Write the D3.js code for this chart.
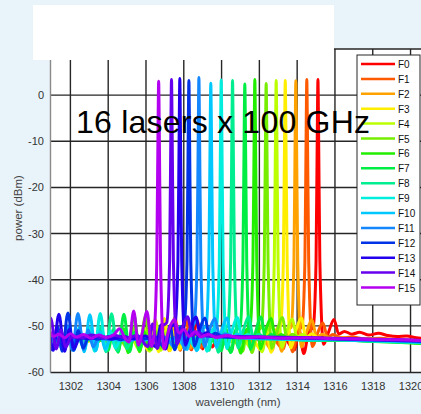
<!DOCTYPE html>
<html>
<head>
<meta charset="utf-8">
<script src="https://cdn.jsdelivr.net/npm/d3@7"></script>
<style>
  html, body { margin: 0; padding: 0; background: #e9f3fa; }
  svg { display: block; }
</style>
</head>
<body>
<svg id="chart" width="421" height="414"></svg>
<script>
// ---- data ----
var laserNames = ['F0','F1','F2','F3','F4','F5','F6','F7','F8','F9','F10','F11','F12','F13','F14','F15'];
var laserColors = ['#ff0000','#ff5a00','#ffa200','#ffee00','#bbff00','#77ee00','#22ee00','#00ee44',
                   '#00ee90','#00eedd','#00c8ff','#1487ff','#0033e6','#2200ee','#6600ee','#b400f0'];
var xTicks = [1302, 1304, 1306, 1308, 1310, 1312, 1314, 1316, 1318, 1320];
var yTicks = [-60, -50, -40, -30, -20, -10, 0];
var xTitle = 'wavelength (nm)';
var yTitle = 'power (dBm)';
var bannerText = '16 lasers x 100 GHz';

// each spectrum: [wavelength nm, power dBm]
var f0 = [[1300.9,-53.0],[1301.4,-52.4],[1301.9,-53.1],[1302.4,-52.6],[1302.9,-53.3],[1303.4,-52.5],[1303.9,-53.0],
  [1304.4,-52.4],[1304.9,-53.2],[1305.4,-52.7],[1305.9,-53.4],[1306.4,-52.6],[1306.9,-53.1],[1307.4,-52.8],
  [1307.85,-54.9],[1308.15,-50.8],[1308.4,-55.2],[1308.7,-48.8],[1309.0,-55.0],[1309.25,-51.5],[1309.5,-54.6],[1309.8,-52.8],
  [1310.3,-53.2],[1310.9,-52.5],[1311.5,-53.4],[1312.1,-52.6],[1312.7,-53.3],[1313.3,-52.7],
  [1313.85,-55.2],[1314.1,-51.0],[1314.35,-56.0],[1314.6,-51.5],[1314.85,-50.2],[1315.0,-36],[1315.07,-6],[1315.1,3.4],[1315.13,-6],[1315.2,-36],
  [1315.4,-54.0],[1315.65,-51.5],[1315.95,-48.6],[1316.2,-51.8],[1316.5,-51.2],[1316.9,-51.8],[1317.3,-51.4],[1317.8,-52.0],
  [1318.3,-51.6],[1318.8,-52.1],[1319.3,-52.3],[1319.8,-52.2],[1320.3,-52.6],[1321,-52.8]];
var f1 = [[1300.9,-53.2],[1301.4,-52.6],[1301.9,-53.3],[1302.4,-52.5],[1302.9,-53.0],[1303.4,-52.7],[1303.9,-53.4],
  [1304.4,-52.6],[1304.9,-53.0],[1305.4,-52.5],[1305.9,-53.2],[1306.4,-52.8],[1306.8,-53.1],
  [1307.26,-55.0],[1307.56,-50.6],[1307.81,-55.3],[1308.11,-48.5],[1308.41,-55.1],[1308.66,-51.2],[1308.91,-54.7],[1309.21,-52.9],
  [1309.71,-53.1],[1310.31,-52.6],[1310.91,-53.3],[1311.51,-52.5],[1312.11,-53.2],[1312.71,-52.8],
  [1313.26,-55.0],[1313.51,-50.8],[1313.76,-55.6],[1314.01,-51.3],[1314.26,-50.0],[1314.41,-36],[1314.48,-6],[1314.51,3.4],[1314.54,-6],[1314.61,-36],
  [1314.81,-54.5],[1315.06,-51.8],[1315.36,-49.4],[1315.61,-52.4],[1315.91,-51.9],[1316.31,-52.6],[1316.9,-52.4],[1317.6,-52.8],
  [1318.4,-52.7],[1319.2,-53.0],[1320.0,-53.1],[1321,-53.4]];
var f2 = [[1300.9,-52.8],[1301.4,-53.4],[1301.9,-52.7],[1302.4,-53.2],[1302.9,-52.5],[1303.4,-53.1],[1303.9,-52.6],
  [1304.4,-53.3],[1304.9,-52.8],[1305.4,-53.0],[1305.9,-52.6],[1306.3,-53.2],
  [1306.68,-55.1],[1306.98,-50.4],[1307.23,-55.4],[1307.53,-48.2],[1307.83,-55.0],[1308.08,-51.0],[1308.33,-54.8],[1308.63,-52.6],
  [1309.13,-53.3],[1309.73,-52.5],[1310.33,-53.1],[1310.93,-52.7],[1311.53,-53.4],[1312.13,-52.6],
  [1312.68,-55.3],[1312.93,-50.6],[1313.18,-55.5],[1313.43,-51.0],[1313.68,-50.3],[1313.83,-36],[1313.9,-6],[1313.93,3.1],[1313.96,-6],[1314.03,-36],
  [1314.23,-54.6],[1314.48,-51.6],[1314.78,-48.7],[1315.03,-52.5],[1315.33,-51.8],[1315.73,-52.7],[1316.4,-52.6],[1317.2,-52.9],
  [1318.0,-52.8],[1318.9,-53.1],[1319.8,-53.2],[1321,-53.5]];
var f3 = [[1300.9,-53.1],[1301.4,-52.6],[1301.9,-53.2],[1302.4,-52.8],[1302.9,-53.4],[1303.4,-52.6],[1303.9,-53.0],
  [1304.4,-52.5],[1304.9,-53.3],[1305.4,-52.7],[1305.8,-53.1],
  [1306.12,-55.3],[1306.42,-50.7],[1306.67,-55.6],[1306.97,-48.4],[1307.27,-55.4],[1307.52,-51.3],[1307.77,-55.0],[1308.07,-52.9],
  [1308.57,-53.0],[1309.17,-52.6],[1309.77,-53.4],[1310.37,-52.7],[1310.97,-53.2],[1311.57,-52.5],
  [1312.12,-55.4],[1312.37,-50.9],[1312.62,-55.7],[1312.87,-51.4],[1313.12,-49.8],[1313.27,-36],[1313.34,-6],[1313.37,3.2],[1313.4,-6],[1313.47,-36],
  [1313.67,-54.8],[1313.92,-51.2],[1314.22,-48.3],[1314.47,-52.6],[1314.77,-51.7],[1315.17,-52.8],[1315.9,-52.7],[1316.8,-53.0],
  [1317.7,-52.9],[1318.7,-53.2],[1319.8,-53.3],[1321,-53.6]];
var f4 = [[1300.9,-52.7],[1301.4,-53.3],[1301.9,-52.6],[1302.4,-53.1],[1302.9,-52.8],[1303.4,-53.4],[1303.9,-52.7],
  [1304.4,-53.2],[1304.9,-52.6],[1305.3,-53.0],
  [1305.64,-55.2],[1305.94,-50.5],[1306.19,-55.5],[1306.49,-48.6],[1306.79,-55.3],[1307.04,-51.1],[1307.29,-54.9],[1307.59,-52.7],
  [1308.09,-53.3],[1308.69,-52.5],[1309.29,-53.1],[1309.89,-52.8],[1310.49,-53.4],[1311.09,-52.6],
  [1311.64,-55.2],[1311.89,-50.7],[1312.14,-55.6],[1312.39,-51.2],[1312.64,-50.1],[1312.79,-36],[1312.86,-6],[1312.89,3.2],[1312.92,-6],[1312.99,-36],
  [1313.19,-54.7],[1313.44,-51.4],[1313.74,-48.5],[1313.99,-52.4],[1314.29,-51.9],[1314.69,-52.8],[1315.5,-52.9],[1316.4,-53.1],
  [1317.4,-53.0],[1318.5,-53.3],[1319.7,-53.4],[1321,-53.7]];
var f5 = [[1300.9,-53.0],[1301.4,-52.5],[1301.9,-53.2],[1302.4,-52.7],[1302.9,-53.3],[1303.4,-52.6],[1303.9,-53.1],
  [1304.4,-52.8],[1304.7,-53.2],
  [1305.11,-55.4],[1305.41,-50.3],[1305.66,-55.6],[1305.96,-48.0],[1306.26,-55.2],[1306.51,-51.0],[1306.76,-54.8],[1307.06,-52.8],
  [1307.56,-53.2],[1308.16,-52.6],[1308.76,-53.3],[1309.36,-52.5],[1309.96,-53.1],[1310.56,-52.7],
  [1311.11,-55.5],[1311.36,-50.8],[1311.61,-55.8],[1311.86,-51.3],[1312.11,-50.2],[1312.26,-36],[1312.33,-6],[1312.36,2.5],[1312.39,-6],[1312.46,-36],
  [1312.66,-54.9],[1312.91,-51.5],[1313.21,-48.2],[1313.46,-52.6],[1313.76,-51.8],[1314.16,-52.9],[1315.0,-52.8],[1316.0,-53.1],
  [1317.1,-53.0],[1318.3,-53.3],[1319.6,-53.5],[1321,-53.8]];
var f6 = [[1300.9,-52.8],[1301.4,-53.3],[1301.9,-52.6],[1302.4,-53.2],[1302.9,-52.7],[1303.4,-53.4],[1303.9,-52.5],[1304.2,-53.0],
  [1304.51,-55.5],[1304.81,-50.6],[1305.06,-55.8],[1305.36,-47.6],[1305.66,-55.5],[1305.91,-51.2],[1306.16,-55.0],[1306.46,-52.7],
  [1306.96,-53.3],[1307.56,-52.5],[1308.16,-53.2],[1308.76,-52.7],[1309.36,-53.4],[1309.96,-52.6],
  [1310.51,-55.6],[1310.76,-50.9],[1311.01,-55.9],[1311.26,-51.2],[1311.51,-50.0],[1311.66,-36],[1311.73,-6],[1311.76,3.4],[1311.79,-6],[1311.86,-36],
  [1312.06,-55.0],[1312.31,-51.3],[1312.61,-48.4],[1312.86,-52.5],[1313.16,-51.9],[1313.56,-52.9],[1314.5,-53.0],[1315.6,-53.2],
  [1316.8,-53.1],[1318.1,-53.4],[1319.5,-53.6],[1321,-53.9]];
var f7 = [[1300.9,-53.1],[1301.4,-52.6],[1301.9,-53.3],[1302.4,-52.7],[1302.9,-53.0],[1303.3,-52.6],[1303.7,-53.2],
  [1303.98,-55.4],[1304.28,-50.8],[1304.53,-55.7],[1304.83,-47.5],[1305.13,-55.6],[1305.38,-51.4],[1305.63,-55.1],[1305.93,-52.9],
  [1306.43,-53.1],[1307.03,-52.6],[1307.63,-53.4],[1308.23,-52.5],[1308.83,-53.2],[1309.43,-52.8],
  [1309.98,-55.4],[1310.23,-50.6],[1310.48,-55.8],[1310.73,-51.1],[1310.98,-50.3],[1311.13,-36],[1311.2,-6],[1311.23,2.4],[1311.26,-6],[1311.33,-36],
  [1311.53,-55.1],[1311.78,-51.6],[1312.08,-48.1],[1312.33,-52.7],[1312.63,-51.8],[1313.03,-52.8],[1314.0,-52.9],[1315.2,-53.1],
  [1316.5,-53.0],[1317.9,-53.3],[1319.4,-53.5],[1321,-53.8]];
var f8 = [[1300.9,-52.9],[1301.4,-53.4],[1301.9,-52.7],[1302.4,-53.1],[1302.8,-52.6],[1303.1,-53.2],
  [1303.33,-55.3],[1303.63,-50.2],[1303.88,-55.6],[1304.18,-47.4],[1304.48,-55.4],[1304.73,-51.0],[1304.98,-54.9],[1305.28,-52.8],
  [1305.78,-53.2],[1306.38,-52.5],[1306.98,-53.3],[1307.58,-52.6],[1308.18,-53.1],[1308.78,-52.7],
  [1309.33,-55.3],[1309.58,-50.5],[1309.83,-55.7],[1310.08,-51.0],[1310.33,-49.9],[1310.48,-36],[1310.55,-6],[1310.58,3.2],[1310.61,-6],[1310.68,-36],
  [1310.88,-54.8],[1311.13,-51.3],[1311.43,-48.0],[1311.68,-52.6],[1311.98,-51.8],[1312.38,-52.8],[1313.4,-52.9],[1314.7,-53.1],
  [1316.1,-53.0],[1317.6,-53.3],[1319.2,-53.5],[1321,-53.7]];
var f9 = [[1300.9,-53.0],[1301.4,-52.5],[1301.9,-53.2],[1302.3,-52.7],[1302.5,-53.1],
  [1302.73,-55.2],[1303.03,-50.4],[1303.28,-55.5],[1303.58,-47.3],[1303.88,-55.3],[1304.13,-51.1],[1304.38,-54.8],[1304.68,-52.6],
  [1305.18,-53.1],[1305.78,-52.6],[1306.38,-53.3],[1306.98,-52.5],[1307.58,-53.2],[1308.18,-52.7],
  [1308.73,-55.2],[1308.98,-50.6],[1309.23,-55.5],[1309.48,-51.2],[1309.73,-50.1],[1309.88,-36],[1309.95,-6],[1309.98,3.3],[1310.01,-6],[1310.08,-36],
  [1310.28,-54.9],[1310.53,-51.4],[1310.83,-48.2],[1311.08,-52.5],[1311.38,-51.9],[1311.78,-52.8],[1312.9,-52.8],[1314.3,-53.0],
  [1315.8,-53.0],[1317.4,-53.2],[1319.1,-53.4],[1321,-53.6]];
var f10 = [[1300.9,-52.7],[1301.4,-53.3],[1301.8,-52.6],[1302.0,-53.0],
  [1302.18,-55.3],[1302.48,-50.3],[1302.73,-55.6],[1303.03,-47.6],[1303.33,-55.4],[1303.58,-51.3],[1303.83,-55.0],[1304.13,-52.8],
  [1304.63,-53.2],[1305.23,-52.5],[1305.83,-53.1],[1306.43,-52.6],[1307.03,-53.3],[1307.63,-52.6],
  [1308.18,-55.1],[1308.43,-50.5],[1308.68,-55.4],[1308.93,-51.0],[1309.18,-50.0],[1309.33,-36],[1309.4,-6],[1309.43,2.6],[1309.46,-6],[1309.53,-36],
  [1309.73,-54.7],[1309.98,-51.3],[1310.28,-48.3],[1310.53,-52.6],[1310.83,-51.8],[1311.23,-52.7],[1312.4,-52.8],[1313.9,-52.9],
  [1315.5,-52.9],[1317.2,-53.1],[1319.0,-53.3],[1321,-53.6]];
var f11 = [[1300.9,-53.0],[1301.2,-52.6],[1301.4,-53.1],
  [1301.55,-55.0],[1301.85,-50.0],[1302.1,-55.3],[1302.4,-47.3],[1302.7,-55.1],[1302.95,-50.9],[1303.2,-54.6],[1303.5,-52.6],
  [1304.0,-53.0],[1304.6,-52.4],[1305.2,-53.1],[1305.8,-52.5],[1306.4,-53.0],[1307.0,-52.4],
  [1307.55,-54.8],[1307.8,-50.2],[1308.05,-55.1],[1308.3,-50.8],[1308.55,-49.6],[1308.7,-36],[1308.77,-6],[1308.8,3.8],[1308.83,-6],[1308.9,-36],
  [1309.1,-54.5],[1309.35,-51.0],[1309.65,-48.4],[1309.9,-52.4],[1310.2,-51.7],[1310.6,-52.5],[1311.8,-52.6],[1313.4,-52.7],
  [1315.1,-52.8],[1316.9,-53.0],[1318.9,-53.2],[1321,-53.5]];
var f12 = [[1300.9,-53.5],
  [1301.02,-55.2],[1301.32,-50.2],[1301.57,-55.5],[1301.87,-47.2],[1302.17,-55.3],[1302.42,-51.0],[1302.67,-54.8],[1302.97,-52.5],
  [1303.47,-52.9],[1304.07,-52.3],[1304.67,-53.0],[1305.27,-52.4],[1305.87,-52.9],[1306.47,-52.3],
  [1307.02,-54.9],[1307.27,-50.0],[1307.52,-55.2],[1307.77,-50.6],[1308.02,-49.8],[1308.17,-36],[1308.24,-6],[1308.27,3.2],[1308.3,-6],[1308.37,-36],
  [1308.57,-54.4],[1308.82,-51.0],[1309.12,-48.3],[1309.37,-52.3],[1309.67,-51.6],[1310.07,-52.4],[1311.3,-52.5],[1312.9,-52.6],
  [1314.7,-52.7],[1316.6,-52.9],[1318.7,-53.1],[1321,-53.4]];
var f13 = [[1300.9,-51.5],[1301.09,-55.3],[1301.39,-47.5],[1301.69,-55.5],[1301.94,-50.8],[1302.19,-54.9],[1302.49,-52.6],
  [1302.99,-52.8],[1303.59,-52.2],[1304.19,-52.9],[1304.79,-52.3],[1305.39,-52.8],[1305.99,-52.2],
  [1306.54,-54.6],[1306.79,-49.8],[1307.04,-55.0],[1307.29,-50.4],[1307.54,-49.5],[1307.69,-36],[1307.76,-6],[1307.79,3.6],[1307.82,-6],[1307.89,-36],
  [1308.09,-54.2],[1308.34,-50.8],[1308.64,-48.1],[1308.89,-52.2],[1309.19,-51.5],[1309.59,-52.3],[1310.9,-52.4],[1312.5,-52.5],
  [1314.3,-52.6],[1316.3,-52.8],[1318.5,-53.0],[1321,-53.3]];
var f14 = [[1300.9,-49.0],[1300.95,-48.3],[1301.25,-55.0],[1301.5,-50.9],[1301.75,-54.6],[1302.05,-52.4],
  [1302.55,-52.6],[1303.15,-52.0],[1303.75,-52.7],[1304.35,-52.1],[1304.95,-52.6],[1305.55,-52.1],
  [1306.1,-54.5],[1306.35,-49.6],[1306.6,-54.9],[1306.85,-50.2],[1307.1,-49.3],[1307.25,-36],[1307.32,-6],[1307.35,3.4],[1307.38,-6],[1307.45,-36],
  [1307.65,-54.0],[1307.9,-50.6],[1308.2,-48.0],[1308.45,-52.1],[1308.75,-51.4],[1309.15,-52.2],[1310.5,-52.3],[1312.2,-52.4],
  [1314.0,-52.5],[1316.0,-52.7],[1318.3,-52.9],[1321,-53.2]];
var f15 = [[1300.9,-51.0],[1301.1,-52.3],[1301.4,-51.8],[1301.7,-52.6],[1302.0,-51.7],[1302.3,-52.4],[1302.7,-51.9],
  [1303.1,-52.7],[1303.5,-52.0],[1303.9,-52.5],[1304.3,-51.9],[1304.6,-50.6],[1304.9,-52.8],[1305.1,-53.5],
  [1305.35,-46.8],[1305.6,-54.2],[1305.8,-51.5],[1306.05,-46.9],[1306.3,-54.5],[1306.45,-50.5],
  [1306.57,-36],[1306.64,-6],[1306.67,3.0],[1306.7,-6],[1306.77,-36],
  [1306.95,-55.0],[1307.2,-51.0],[1307.5,-48.6],[1307.75,-51.6],[1308.0,-50.8],[1308.3,-52.3],[1308.6,-51.2],[1308.9,-52.4],
  [1309.3,-51.8],[1309.7,-52.5],[1310.3,-52.1],[1311.0,-52.6],[1312.0,-52.4],[1313.2,-52.7],[1314.5,-52.6],[1316.0,-52.8],
  [1317.5,-52.9],[1319.0,-53.0],[1320.2,-53.1],[1321,-53.3]];
var spectra = [f0, f1, f2, f3, f4, f5, f6, f7, f8, f9, f10, f11, f12, f13, f14, f15];

// ---- layout ----
var plot = {left: 50, top: 49, right: 430, bottom: 372};

var svg = d3.select('#chart');

var x = d3.scaleLinear().domain([1300.92, 1321.03]).range([plot.left, plot.right]);
var y = d3.scaleLinear().domain([-60, 10]).range([plot.bottom, plot.top]);

svg.append('rect')
  .attr('x', plot.left).attr('y', plot.top)
  .attr('width', plot.right - plot.left).attr('height', plot.bottom - plot.top)
  .attr('fill', '#fff');

svg.append('clipPath').attr('id', 'plotClip')
  .append('rect')
  .attr('x', plot.left).attr('y', plot.top)
  .attr('width', plot.right - plot.left).attr('height', plot.bottom - plot.top);

// grid
var grid = svg.append('g').attr('class', 'grid');
grid.selectAll('line.gx').data(xTicks).enter().append('line')
  .attr('x1', d => x(d)).attr('x2', d => x(d))
  .attr('y1', plot.top).attr('y2', plot.bottom)
  .attr('stroke', '#262626').attr('stroke-width', 1.4);
grid.selectAll('line.gy').data(yTicks.filter(d => d > -60)).enter().append('line')
  .attr('x1', plot.left).attr('x2', plot.right)
  .attr('y1', d => y(d)).attr('y2', d => y(d))
  .attr('stroke', '#262626').attr('stroke-width', 1.4);

// frame
svg.append('line').attr('x1', plot.left).attr('x2', plot.right)
  .attr('y1', plot.top).attr('y2', plot.top).attr('stroke', '#262626').attr('stroke-width', 1.4);

// spectra
var line = d3.line()
  .x(d => x(d[0]))
  .y(d => y(d[1]))
  .curve(d3.curveMonotoneX);

svg.append('g').attr('clip-path', 'url(#plotClip)')
  .selectAll('path').data(spectra).enter().append('path')
  .attr('d', line)
  .attr('fill', 'none')
  .attr('stroke', (d, i) => laserColors[i])
  .attr('stroke-width', 3)
  .attr('stroke-linejoin', 'round')
  .attr('stroke-linecap', 'round');

// axes
var xAxis = d3.axisBottom(x).tickValues(xTicks).tickSize(0).tickPadding(10).tickFormat(d3.format('d'));
var yAxis = d3.axisLeft(y).tickValues(yTicks).tickSize(0).tickPadding(6).tickFormat(d => String(d).replace('\u2212', '-'));

var gx = svg.append('g').attr('transform', 'translate(0,' + plot.bottom + ')').call(xAxis);
var gy = svg.append('g').attr('transform', 'translate(' + plot.left + ',0)').call(yAxis);

gx.select('.domain').attr('stroke', '#262626').attr('stroke-width', 1.4);
gy.select('.domain').attr('stroke', '#8a8a8a').attr('stroke-width', 1.4);
[gx, gy].forEach(function(g) {
  g.selectAll('text')
    .attr('fill', '#333')
    .style('font-family', '"Liberation Sans", Arial, sans-serif')
    .style('font-size', '11px');
});

svg.append('text')
  .attr('x', 238).attr('y', 406)
  .attr('text-anchor', 'middle')
  .attr('fill', '#444')
  .style('font-family', '"Liberation Sans", Arial, sans-serif')
  .style('font-size', '11.5px')
  .text(xTitle);

svg.append('text')
  .attr('transform', 'translate(22,208) rotate(-90)')
  .attr('text-anchor', 'middle')
  .attr('fill', '#444')
  .style('font-family', '"Liberation Sans", Arial, sans-serif')
  .style('font-size', '11.5px')
  .text(yTitle);

// white box over the top of the figure
svg.append('rect')
  .attr('x', 33).attr('y', 5).attr('width', 301).attr('height', 55)
  .attr('fill', '#fff');

// legend
var legend = svg.append('g').attr('transform', 'translate(357,55)');
legend.append('rect')
  .attr('x', 0).attr('y', 0).attr('width', 63).attr('height', 250)
  .attr('fill', '#fff').attr('stroke', '#262626').attr('stroke-width', 1);
var rows = legend.selectAll('g.row').data(laserNames).enter().append('g')
  .attr('transform', (d, i) => 'translate(0,' + (9 + i * 14.9) + ')');
rows.append('line')
  .attr('x1', 4).attr('x2', 38).attr('y1', 0).attr('y2', 0)
  .attr('stroke', (d, i) => laserColors[i]).attr('stroke-width', 2.5);
rows.append('text')
  .attr('x', 41).attr('y', 4)
  .attr('fill', '#111')
  .style('font-family', '"Liberation Sans", Arial, sans-serif')
  .style('font-size', '10px')
  .text(d => d);

// banner text, laid over the legend as in the original
svg.append('text')
  .attr('x', 76).attr('y', 133)
  .attr('fill', '#000')
  .attr('textLength', 294)
  .style('font-family', '"Liberation Sans", Arial, sans-serif')
  .style('font-size', '32px')
  .text(bannerText);
</script>
</body>
</html>
